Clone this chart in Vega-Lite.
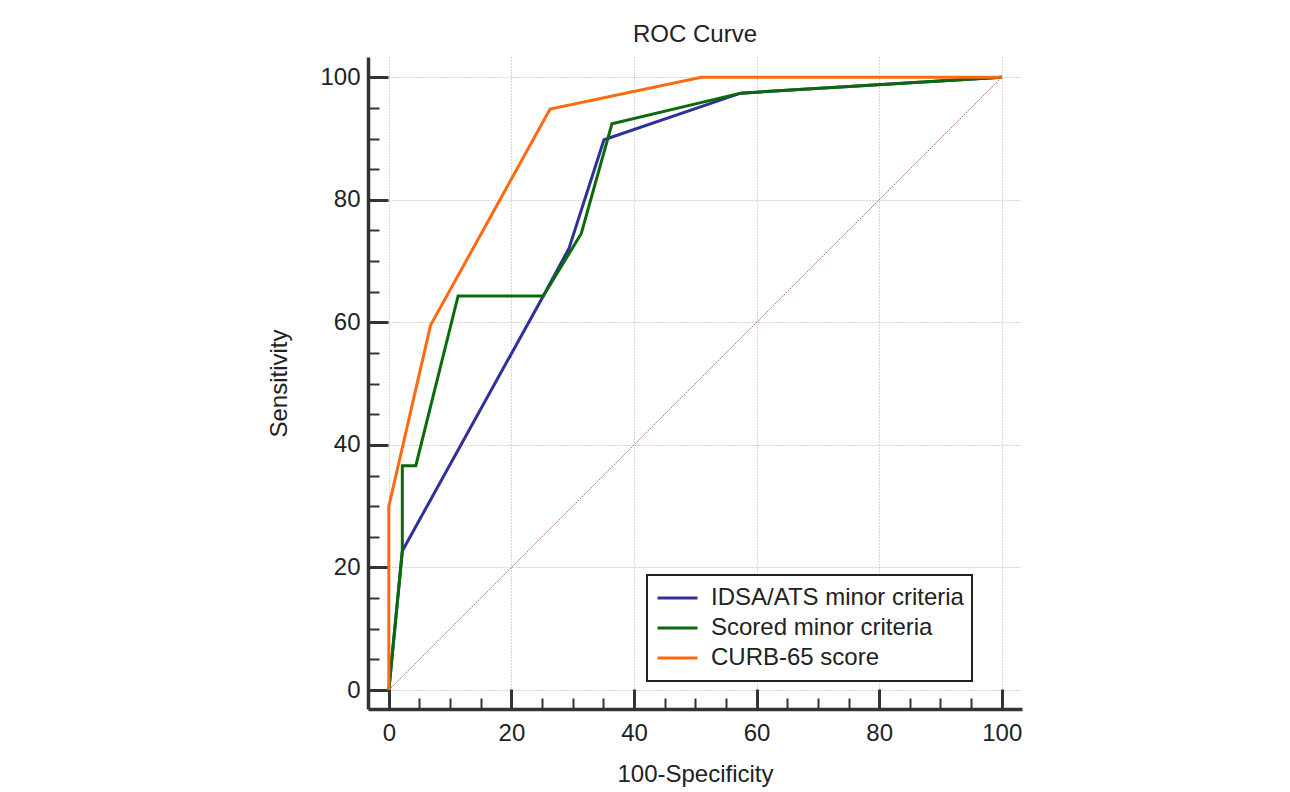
{
  "$schema": "https://vega.github.io/schema/vega-lite/v6.json",
  "width": 654,
  "height": 652,
  "autosize": "none",
  "padding": {"left": 368, "top": 57, "right": 268, "bottom": 83},
  "background": "white",
  "title": {"text": "ROC Curve", "fontSize": 24, "font": "Liberation Sans", "fontWeight": "normal", "color": "#222222", "baseline": "alphabetic", "offset": -9, "anchor": "middle"},
  "config": {"view": {"stroke": null}, "font": "Liberation Sans", "axis": {"gridDash": [1, 2]}, "legend": {"strokeWidth": 2}},
  "encoding": {
    "x": {
      "field": "x", "type": "quantitative",
      "scale": {"domain": [-3.4, 103.3], "nice": false, "zero": false},
      "axis": {
        "title": "100-Specificity", "titleFontSize": 24, "titleFontWeight": "normal", "titleColor": "#222222", "titleFont": "Liberation Sans", "titlePadding": 8,
        "values": [0,5,10,15,20,25,30,35,40,45,50,55,60,65,70,75,80,85,90,95,100],
        "labelExpr": "datum.value % 20 === 0 ? datum.label : ''",
        "labelFontSize": 24, "labelColor": "#222222", "labelFont": "Liberation Sans", "labelPadding": 32, "labelOverlap": false, "labelFlush": false,
        "tickSize": {"condition": {"test": "datum.value % 20 === 0", "value": -20}, "value": -11},
        "tickWidth": {"condition": {"test": "datum.value % 20 === 0", "value": 3}, "value": 2},
        "tickColor": "#333333", "domainColor": "#333333", "domainWidth": 3.5,
        "grid": true,
        "gridOpacity": {"condition": {"test": "datum.value % 20 === 0", "value": 1}, "value": 0},
        "gridColor": "#aaaaaa", "gridWidth": 1
      }
    },
    "y": {
      "field": "y", "type": "quantitative",
      "scale": {"domain": [-3.1, 103.3], "nice": false, "zero": false},
      "axis": {
        "title": "Sensitivity", "titleFontSize": 24, "titleFontWeight": "normal", "titleColor": "#222222", "titleFont": "Liberation Sans", "titlePadding": 28,
        "values": [0,5,10,15,20,25,30,35,40,45,50,55,60,65,70,75,80,85,90,95,100],
        "labelExpr": "datum.value % 20 === 0 ? datum.label : ''",
        "labelFontSize": 24, "labelColor": "#222222", "labelFont": "Liberation Sans", "labelPadding": 28, "labelOverlap": false, "labelFlush": false,
        "tickSize": {"condition": {"test": "datum.value % 20 === 0", "value": -20}, "value": -11},
        "tickWidth": {"condition": {"test": "datum.value % 20 === 0", "value": 3}, "value": 2},
        "tickColor": "#333333", "domainColor": "#333333", "domainWidth": 3.5,
        "grid": true,
        "gridOpacity": {"condition": {"test": "datum.value % 20 === 0", "value": 1}, "value": 0},
        "gridColor": "#aaaaaa", "gridWidth": 1
      }
    }
  },
  "layer": [
    {
      "data": {"values": [{"x": 0, "y": 0}, {"x": 100, "y": 100}]},
      "mark": {"type": "line", "color": "#b87070", "strokeWidth": 1, "strokeDash": [2, 1]},
      "encoding": {}
    },
    {
      "data": {"values": [
        {"series": "IDSA/ATS minor criteria", "i": 0, "x": 0, "y": 0},
        {"series": "IDSA/ATS minor criteria", "i": 1, "x": 2.2, "y": 22.7},
        {"series": "IDSA/ATS minor criteria", "i": 2, "x": 25.2, "y": 64.3},
        {"series": "IDSA/ATS minor criteria", "i": 3, "x": 29.4, "y": 72.1},
        {"series": "IDSA/ATS minor criteria", "i": 4, "x": 35.1, "y": 89.8},
        {"series": "IDSA/ATS minor criteria", "i": 5, "x": 57.4, "y": 97.4},
        {"series": "IDSA/ATS minor criteria", "i": 6, "x": 100, "y": 100},
        {"series": "Scored minor criteria", "i": 0, "x": 0, "y": 0},
        {"series": "Scored minor criteria", "i": 1, "x": 2.2, "y": 22.7},
        {"series": "Scored minor criteria", "i": 2, "x": 2.2, "y": 36.6},
        {"series": "Scored minor criteria", "i": 3, "x": 4.4, "y": 36.6},
        {"series": "Scored minor criteria", "i": 4, "x": 11.3, "y": 64.3},
        {"series": "Scored minor criteria", "i": 5, "x": 25.2, "y": 64.3},
        {"series": "Scored minor criteria", "i": 6, "x": 31.4, "y": 74.5},
        {"series": "Scored minor criteria", "i": 7, "x": 36.4, "y": 92.4},
        {"series": "Scored minor criteria", "i": 8, "x": 57.4, "y": 97.4},
        {"series": "Scored minor criteria", "i": 9, "x": 100, "y": 100},
        {"series": "CURB-65 score", "i": 0, "x": 0, "y": 0},
        {"series": "CURB-65 score", "i": 1, "x": 0, "y": 30},
        {"series": "CURB-65 score", "i": 2, "x": 6.8, "y": 59.5},
        {"series": "CURB-65 score", "i": 3, "x": 26.3, "y": 94.8},
        {"series": "CURB-65 score", "i": 4, "x": 51.0, "y": 100},
        {"series": "CURB-65 score", "i": 5, "x": 100, "y": 100}
      ]},
      "mark": {"type": "line", "strokeWidth": 3},
      "encoding": {
        "color": {
          "field": "series", "type": "nominal",
          "scale": {"domain": ["IDSA/ATS minor criteria", "Scored minor criteria", "CURB-65 score"], "range": ["#30309a", "#0b6a0b", "#ff6a10"]},
          "legend": {
            "title": null, "orient": "none", "legendX": 279, "legendY": 518,
            "strokeColor": "#222222", "fillColor": "white", "padding": 8, "cornerRadius": 0,
            "symbolType": "stroke", "symbolSize": 1600, "symbolStrokeWidth": 3, "symbolOffset": 1,
            "clipHeight": 30,
            "labelFontSize": 24, "labelFont": "Liberation Sans", "labelColor": "#222222", "labelOffset": 12, "rowPadding": 0, "labelLimit": 400
          }
        },
        "order": {"field": "i", "type": "quantitative"}
      }
    }
  ]
}
